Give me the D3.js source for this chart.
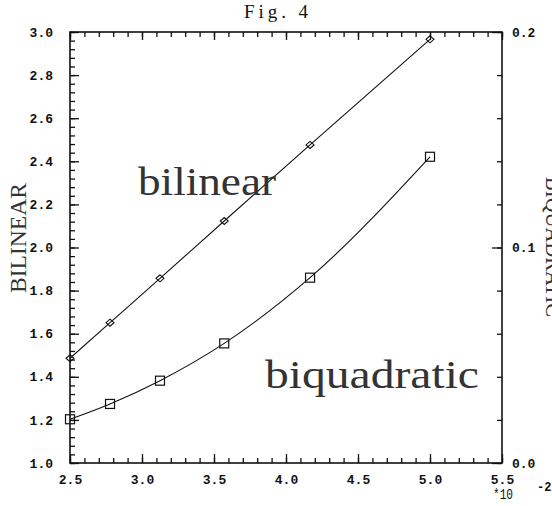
<!DOCTYPE html>
<html>
<head>
<meta charset="utf-8">
<script src="https://cdn.jsdelivr.net/npm/d3@7"></script>
<style>
  body { margin: 0; background: #fff; }
  svg { display: block; }
</style>
</head>
<body>
<div id="chart"></div>
<script>
// x is in units of 10^-2 (1/h)
const xVals = [2.5, 2.778, 3.125, 3.571, 4.167, 5.0];
const bilinear = [1.486, 1.651, 1.857, 2.123, 2.476, 2.966];
const biquadratic = [0.0203, 0.0274, 0.0382, 0.0555, 0.0860, 0.1421];

const xMajor = [2.5, 3.0, 3.5, 4.0, 4.5, 5.0, 5.5];
const yMajor = [1.0, 1.2, 1.4, 1.6, 1.8, 2.0, 2.2, 2.4, 2.6, 2.8, 3.0];
const y2Major = [0.0, 0.1, 0.2];

const width = 552, height = 506;
const margin = {top: 32, right: 50, bottom: 43, left: 70};

const svg = d3.select('#chart').append('svg')
    .attr('width', width)
    .attr('height', height);

const xScale = d3.scaleLinear().domain([2.5, 5.5]).range([margin.left, width - margin.right]);
const yScale = d3.scaleLinear().domain([1.0, 3.0]).range([height - margin.bottom, margin.top]);
const y2Scale = d3.scaleLinear().domain([0, 0.2]).range([height - margin.bottom, margin.top]);

const tickFont = g => g.selectAll('text')
    .attr('font-family', '"Liberation Mono", monospace')
    .attr('font-weight', 'bold')
    .attr('font-size', 13)
    .attr('fill', '#111');

const clean = g => {
    g.select('.domain').remove();
    g.selectAll('line').attr('stroke', '#111').attr('stroke-width', 1.3);
};

// minor ticks
const xMinor = d3.range(25, 56).map(d => d / 10);
const yMinor = d3.range(0, 51).map(d => 1 + d * 0.04);
const y2Minor = d3.range(0, 11).map(d => d * 0.02);

const bottom = height - margin.bottom;

svg.append('g').attr('transform', `translate(0,${bottom})`)
    .call(d3.axisBottom(xScale).tickValues(xMinor).tickSize(-5).tickFormat(''))
    .call(clean);
svg.append('g').attr('transform', `translate(0,${bottom})`)
    .call(d3.axisBottom(xScale).tickValues(xMajor).tickSize(-9).tickPadding(12).tickFormat(d3.format('.1f')))
    .call(clean).call(tickFont);

svg.append('g').attr('transform', `translate(0,${margin.top})`)
    .call(d3.axisTop(xScale).tickValues(xMinor).tickSize(-5).tickFormat(''))
    .call(clean);
svg.append('g').attr('transform', `translate(0,${margin.top})`)
    .call(d3.axisTop(xScale).tickValues(xMajor).tickSize(-8).tickFormat(''))
    .call(clean);

svg.append('g').attr('transform', `translate(${margin.left},0)`)
    .call(d3.axisLeft(yScale).tickValues(yMinor).tickSize(-5).tickFormat(''))
    .call(clean);
svg.append('g').attr('transform', `translate(${margin.left},0)`)
    .call(d3.axisLeft(yScale).tickValues(yMajor).tickSize(-9).tickPadding(17).tickFormat(d3.format('.1f')))
    .call(clean).call(tickFont);

svg.append('g').attr('transform', `translate(${width - margin.right},0)`)
    .call(d3.axisRight(y2Scale).tickValues(y2Minor).tickSize(-5).tickFormat(''))
    .call(clean);
svg.append('g').attr('transform', `translate(${width - margin.right},0)`)
    .call(d3.axisRight(y2Scale).tickValues(y2Major).tickSize(-10).tickPadding(10).tickFormat(d3.format('.1f')))
    .call(clean).call(tickFont);

// frame
svg.append('rect')
    .attr('x', margin.left).attr('y', margin.top)
    .attr('width', width - margin.left - margin.right)
    .attr('height', bottom - margin.top)
    .attr('fill', 'none').attr('stroke', '#111').attr('stroke-width', 1.6);

// curves
const line1 = d3.line().x((d, i) => xScale(xVals[i])).y(d => yScale(d)).curve(d3.curveMonotoneX);
const line2 = d3.line().x((d, i) => xScale(xVals[i])).y(d => y2Scale(d)).curve(d3.curveMonotoneX);

svg.append('path').datum(bilinear).attr('d', line1)
    .attr('fill', 'none').attr('stroke', '#111').attr('stroke-width', 1.1);
svg.append('path').datum(biquadratic).attr('d', line2)
    .attr('fill', 'none').attr('stroke', '#111').attr('stroke-width', 1.1);

svg.selectAll('.diamond').data(bilinear).enter().append('path')
    .attr('class', 'diamond')
    .attr('transform', (d, i) => `translate(${xScale(xVals[i])},${yScale(d)})`)
    .attr('d', 'M0,-3.5L4,0L0,3.5L-4,0Z')
    .attr('fill', 'none').attr('stroke', '#111').attr('stroke-width', 1.1);

svg.selectAll('.square').data(biquadratic).enter().append('rect')
    .attr('class', 'square')
    .attr('x', (d, i) => xScale(xVals[i]) - 4.5)
    .attr('y', d => y2Scale(d) - 4.5)
    .attr('width', 9).attr('height', 9)
    .attr('fill', 'none').attr('stroke', '#111').attr('stroke-width', 1.2);

// texts (thin, tall plotter lettering)
const serif = '"Liberation Serif", "DejaVu Serif", serif';

svg.append('text').attr('x', 244).attr('y', 18)
    .attr('font-family', serif).attr('font-size', 19).attr('fill', '#111')
    .attr('textLength', 64).attr('lengthAdjust', 'spacing')
    .text('Fig. 4');

svg.append('text')
    .attr('transform', 'translate(138,195) scale(1,1.4)')
    .attr('font-family', serif).attr('font-size', 29).attr('fill', '#333')
    .attr('textLength', 138).attr('lengthAdjust', 'spacingAndGlyphs')
    .text('bilinear');

svg.append('text')
    .attr('transform', 'translate(265,388) scale(1,1.4)')
    .attr('font-family', serif).attr('font-size', 29).attr('fill', '#333')
    .attr('textLength', 214).attr('lengthAdjust', 'spacingAndGlyphs')
    .text('biquadratic');

svg.append('text')
    .attr('transform', 'translate(26,293) rotate(-90) scale(1,1.3)')
    .attr('font-family', serif).attr('font-size', 18).attr('fill', '#333')
    .attr('textLength', 110).attr('lengthAdjust', 'spacingAndGlyphs')
    .text('BILINEAR');

// right label is partly off the page in the original figure
svg.append('text')
    .attr('transform', 'translate(546,177) rotate(90) scale(1,1.3)')
    .attr('font-family', serif).attr('font-size', 18).attr('fill', '#333')
    .attr('textLength', 140).attr('lengthAdjust', 'spacingAndGlyphs')
    .text('BIQUADRATIC');

svg.append('text').attr('x', 493).attr('y', 499)
    .attr('font-family', '"Liberation Mono", monospace').attr('font-size', 15).attr('fill', '#111')
    .attr('textLength', 20).attr('lengthAdjust', 'spacingAndGlyphs')
    .text('*10');
svg.append('text').attr('x', 537).attr('y', 491)
    .attr('font-family', '"Liberation Mono", monospace').attr('font-size', 12).attr('font-weight', 'bold').attr('fill', '#111')
    .text('-2');
</script>
</body>
</html>
